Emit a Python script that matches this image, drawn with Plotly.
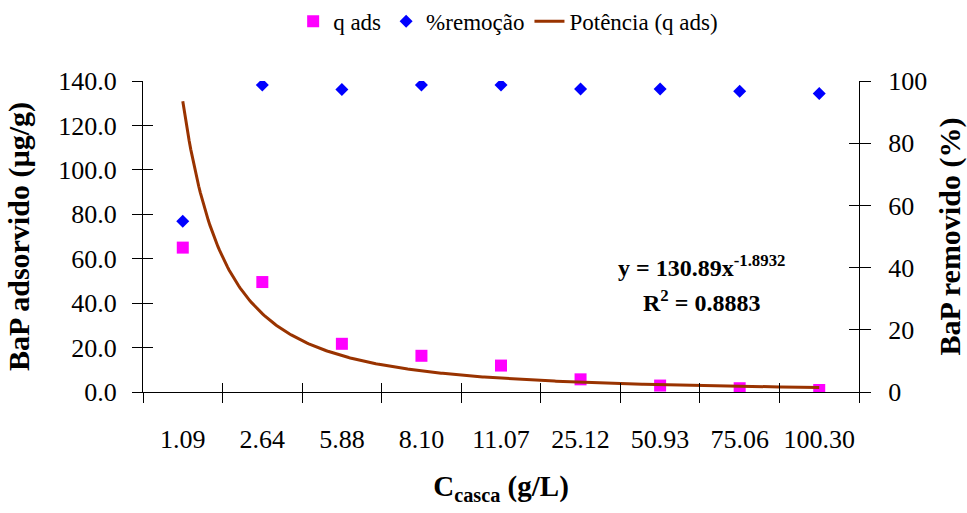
import numpy as np
import plotly.graph_objects as go

# ---- data ----
categories = ["1.09", "2.64", "5.88", "8.10", "11.07", "25.12", "50.93", "75.06", "100.30"]
q_ads = [65.0, 49.5, 21.7, 16.3, 11.9, 5.7, 2.9, 1.7, 0.9]
remocao = [54.9, 98.7, 97.3, 98.7, 98.7, 97.4, 97.4, 96.7, 96.0]
trend_a = 130.89
trend_b = -1.8932
trend_r2 = 0.8883

FONT = "Liberation Serif"
idx = np.arange(1, len(categories) + 1)
bounds = np.arange(0.5, len(categories) + 1, 1.0)
xt = np.linspace(1, len(categories), 400)
yt = trend_a * xt ** trend_b

fig = go.Figure()
fig.add_trace(go.Scatter(x=idx, y=q_ads, mode="markers", name="q ads",
                         marker=dict(symbol="square", size=12, color="#FF00FF"),
                         xaxis="x", yaxis="y"))
fig.add_trace(go.Scatter(x=idx, y=remocao, mode="markers", name="%remoção",
                         marker=dict(symbol="diamond", size=10, color="#0000FF"),
                         xaxis="x", yaxis="y2"))
fig.add_trace(go.Scatter(x=xt, y=yt, mode="lines", name="Potência (q ads)",
                         line=dict(color="#993300", width=3),
                         xaxis="x", yaxis="y"))
# helper traces for inside-tick overlay axes
fig.add_trace(go.Scatter(x=[], y=[], xaxis="x2", yaxis="y3", showlegend=False, hoverinfo="skip"))
fig.add_trace(go.Scatter(x=[], y=[], xaxis="x3", yaxis="y4", showlegend=False, hoverinfo="skip"))

xr = [0.5, len(categories) + 0.5]
common_x = dict(range=xr, showgrid=False, zeroline=False, fixedrange=True)
fig.update_layout(
    width=967, height=513,
    margin=dict(l=143, r=108, t=81, b=121, autoexpand=False),
    paper_bgcolor="white", plot_bgcolor="white",
    font=dict(family=FONT, size=26, color="black"),
    showlegend=True,
    legend=dict(orientation="h", x=0.51, xanchor="center", y=1.192, yanchor="middle",
                font=dict(family=FONT, size=23, color="black"), bgcolor="rgba(0,0,0,0)",
                itemwidth=30),
    xaxis=dict(**common_x, tickmode="array", tickvals=list(idx), ticktext=categories,
               ticks="", tickangle=0, showline=True, linecolor="black", linewidth=1,
               ticklabelstandoff=24,
               title=dict(text="<b>C<sub>casca</sub> (g/L)</b>", font=dict(family=FONT, size=29),
                          standoff=22)),
    xaxis2=dict(**common_x, overlaying="x", anchor="y3", tickmode="array", tickvals=list(bounds),
                ticks="outside", ticklen=10, tickcolor="black", showticklabels=False, showline=False),
    xaxis3=dict(**common_x, overlaying="x", anchor="y4", tickmode="array", tickvals=list(bounds),
                ticks="inside", ticklen=9, tickcolor="black", showticklabels=False, showline=False),
    yaxis=dict(range=[0, 140], dtick=20, tick0=0, tickformat=".1f", ticks="outside", ticklen=10,
               tickcolor="black", showline=True, linecolor="black", linewidth=1,
               showgrid=False, zeroline=False, ticklabelstandoff=10,
               title=dict(text="<b>BaP adsorvido (µg/g)</b>", font=dict(family=FONT, size=30),
                          standoff=19)),
    yaxis2=dict(range=[0, 100], dtick=20, tick0=0, side="right", overlaying="y", anchor="x",
                ticks="outside", ticklen=11, tickcolor="black", showline=True, linecolor="black",
                linewidth=1, showgrid=False, zeroline=False, ticklabelstandoff=12,
                title=dict(text="<b>BaP removido (%)</b>", font=dict(family=FONT, size=30),
                           standoff=15)),
    yaxis3=dict(range=[0, 140], dtick=20, tick0=0, overlaying="y", anchor="x2", side="left",
                ticks="inside", ticklen=10, tickcolor="black", showticklabels=False,
                showline=False, showgrid=False, zeroline=False),
    yaxis4=dict(range=[0, 100], dtick=20, tick0=0, overlaying="y", anchor="x3", side="right",
                ticks="inside", ticklen=10, tickcolor="black", showticklabels=False,
                showline=False, showgrid=False, zeroline=False),
)

fig.add_annotation(x=7.52, y=56.5, xref="x", yref="y",
                   text=f"<b>y = {trend_a}x<sup>{trend_b}</sup></b>", showarrow=False,
                   font=dict(family=FONT, size=24, color="black"))
fig.add_annotation(x=7.52, y=40.8, xref="x", yref="y",
                   text=f"<b>R<sup>2</sup> = {trend_r2}</b>", showarrow=False,
                   font=dict(family=FONT, size=24, color="black"))

fig.write_html("out.html")
